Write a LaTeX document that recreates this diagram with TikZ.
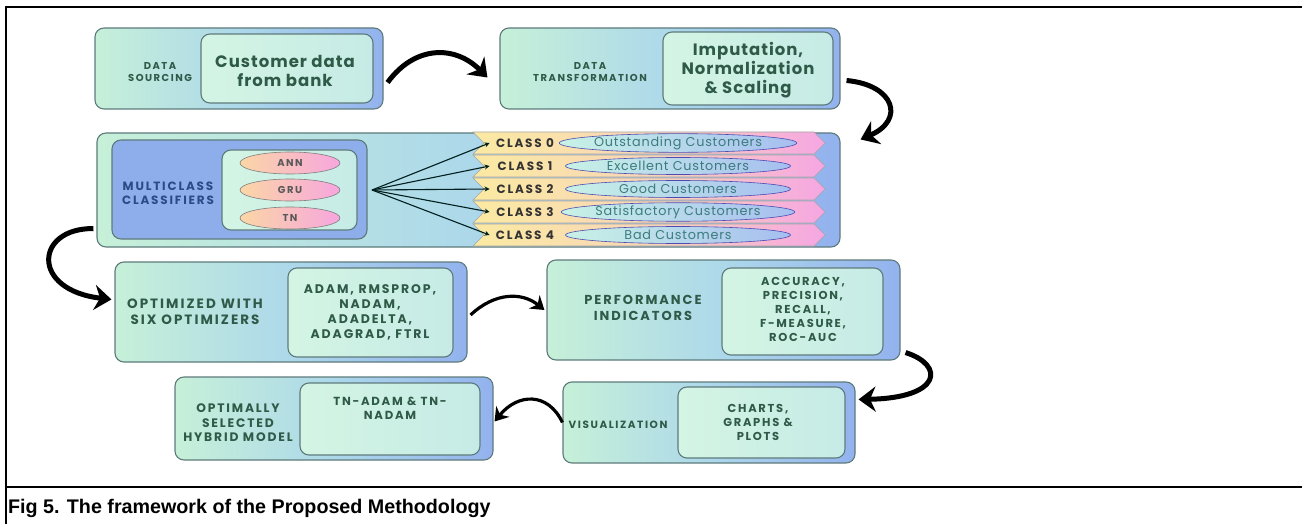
\documentclass[tikz,border=0pt]{standalone}
\usepackage{fontspec}
\setmainfont{Liberation Sans}
\newfontfamily\pop[LetterSpace=15]{Poppins}
\newfontfamily\popm[LetterSpace=6]{Poppins}
\usetikzlibrary{arrows.meta,shapes.geometric,shapes.symbols}
\definecolor{mint}{HTML}{C6F0D8}
\definecolor{aqua}{HTML}{ADD8EA}
\definecolor{blueR}{HTML}{93B2EE}
\definecolor{inA}{HTML}{D4F5E4}
\definecolor{inB}{HTML}{C6EBE6}
\definecolor{bordc}{HTML}{5E7B7C}
\definecolor{lblc}{HTML}{2F5A48}
\definecolor{navy}{HTML}{2B4B86}
\definecolor{blueBox}{HTML}{8EAEEB}
\definecolor{bandY}{HTML}{FBEAA2}
\definecolor{bandO}{HTML}{F8D6B8}
\definecolor{bandP}{HTML}{F6A6E2}
\definecolor{cyanL}{HTML}{C8F2E6}
\definecolor{blueL}{HTML}{A6BEF0}
\definecolor{peach}{HTML}{FBD6A6}
\definecolor{pinkE}{HTML}{F7A6DE}
\definecolor{custc}{HTML}{3C7C7E}
\tikzset{
  outerbox/.style={draw=bordc, line width=1.1pt, rounded corners=9pt, left color=mint, right color=blueR, middle color=aqua},
  innerbox/.style={draw=bordc, line width=1.1pt, rounded corners=9pt, left color=inA, right color=inB},
  lbl/.style={font=\pop\bfseries\fontsize{11.5}{13}\selectfont, text=lblc, align=center, inner sep=0pt},
  biglbl/.style={font=\popm\bfseries\fontsize{16.5}{19}\selectfont, text=lblc, align=center, inner sep=0pt},
  band/.style={signal, signal to=east, signal from=west, minimum width=352pt, minimum height=22pt, inner sep=0pt, draw=gray!70, line width=0.6pt, left color=bandY, right color=bandP, middle color=bandO},
  custell/.style={ellipse, draw=gray!60!blue, line width=0.6pt, left color=cyanL, right color=blueL, minimum width=225pt, minimum height=17pt, inner sep=0pt, font=\popm\fontsize{12.8}{14}\selectfont, text=custc},
  classlbl/.style={font=\pop\bfseries\fontsize{12}{13}\selectfont, text=black!80, inner sep=0pt},
  mell/.style={ellipse, draw=gray, line width=0.6pt, left color=peach, right color=pinkE, minimum width=100pt, minimum height=22pt, inner sep=0pt, font=\pop\bfseries\fontsize{10}{11}\selectfont, text=black!65},
  bigarrow/.style={line width=5pt, black, -{Stealth[length=17pt,width=25pt]}},
  midarrow/.style={line width=3.2pt, black, -{Stealth[length=13pt,width=17pt]}},
  fan/.style={line width=1.1pt, draw=black!75!teal, -{Stealth[length=5pt,width=5pt]}},
  frame/.style={line width=2pt, black}
}
\begin{document}
\begin{tikzpicture}[x=1pt,y=-1pt]
\useasboundingbox (0,0) rectangle (1302,524);
\fill[white] (0,0) rectangle (1302,524);
% frame
\draw[frame] (1302,7) -- (6,7) -- (6,524);
\draw[frame] (6,487) -- (1302,487);
\node[anchor=west, font=\bfseries\fontsize{19.7}{22}\selectfont, inner sep=0pt] (cap) at (8,508) {Fig 5. The framework of the Proposed Methodology};

% box 1
\node[outerbox, minimum width=288pt, minimum height=81pt] (b1) at (239,68.5) {};
\node[innerbox, minimum width=172pt, minimum height=69pt] (b1i) at (287,68.5) {};
\node[lbl, font=\pop\bfseries\fontsize{10}{12}\selectfont] (t1) at (160,72) {DATA\\SOURCING};
\node[biglbl] (t1i) at (285,71) {Customer data\\from bank};

% box 2
\node[outerbox, minimum width=340pt, minimum height=81pt] (b2) at (670,68.5) {};
\node[innerbox, minimum width=170pt, minimum height=73pt] (b2i) at (748,68.5) {};
\node[lbl, font=\pop\bfseries\fontsize{10}{12}\selectfont] (t2) at (590,72) {DATA\\TRANSFORMATION};
\node[biglbl] (t2i) at (748,70) {Imputation,\\Normalization\\\& Scaling};

% box 3
\node[outerbox, minimum width=743pt, minimum height=114pt] (b3) at (468.5,190) {};
\node[draw=bordc, line width=1.1pt, rounded corners=9pt, fill=blueBox, minimum width=255pt, minimum height=99pt] (b3b) at (239.5,189.5) {};
\node[innerbox, minimum width=135pt, minimum height=80pt] (b3i) at (289.5,190) {};
\node[lbl, text=navy, font=\pop\bfseries\fontsize{12}{14}\selectfont] (t3) at (168,193) {MULTICLASS\\CLASSIFIERS};
\node[mell] (ann) at (290,163) {ANN};
\node[mell] (gru) at (290,190) {GRU};
\node[mell] (tn) at (290,218) {TN};
\coordinate (hub) at (372,190);

\foreach \i/\y/\t in {0/143/Outstanding Customers,1/166/Excellent Customers,2/189/Good Customers,3/212/Satisfactory Customers,4/235/Bad Customers}{
  \node[band] (c\i) at (649,\y) {};
  \node[classlbl] (cl\i) at (525,\y) {CLASS \i};
  \node[custell] (ce\i) at (678,\y) {\t};
  \draw[fan] (hub) -- ([xshift=6pt]c\i.west);
}

% box 4
\node[outerbox, minimum width=352pt, minimum height=100pt] (b4) at (291,312) {};
\node[innerbox, minimum width=165pt, minimum height=89pt] (b4i) at (370.5,312.5) {};
\node[lbl, font=\pop\bfseries\fontsize{13.5}{16}\selectfont] (t4) at (195,312) {OPTIMIZED WITH\\SIX OPTIMIZERS};
\node[lbl, font=\pop\bfseries\fontsize{12.5}{15}\selectfont] (t4i) at (370,312) {ADAM, RMSPROP,\\NADAM,\\ADADELTA,\\ADAGRAD, FTRL};

% box 5
\node[outerbox, minimum width=353pt, minimum height=100pt] (b5) at (723.5,310) {};
\node[innerbox, minimum width=161pt, minimum height=87pt] (b5i) at (802.5,311.5) {};
\node[lbl, font=\pop\bfseries\fontsize{13}{15.5}\selectfont] (t5) at (643,308) {PERFORMANCE\\INDICATORS};
\node[lbl, font=\pop\bfseries\fontsize{11.5}{14}\selectfont] (t5i) at (803,309) {ACCURACY,\\PRECISION,\\RECALL,\\F-MEASURE,\\ROC-AUC};

% box 6
\node[outerbox, minimum width=292pt, minimum height=81pt] (b6) at (709,422.5) {};
\node[innerbox, minimum width=167pt, minimum height=71pt] (b6i) at (761.5,422.5) {};
\node[lbl, font=\pop\bfseries\fontsize{10.5}{12}\selectfont] (t6) at (618,425) {VISUALIZATION};
\node[lbl, font=\pop\bfseries\fontsize{11.5}{14}\selectfont] (t6i) at (758,422) {CHARTS,\\GRAPHS \&\\PLOTS};

% box 7
\node[outerbox, minimum width=318pt, minimum height=83pt] (b7) at (334,418.5) {};
\node[innerbox, minimum width=180pt, minimum height=72pt] (b7i) at (390,419) {};
\node[lbl, font=\pop\bfseries\fontsize{12.3}{14.5}\selectfont] (t7) at (238,423) {OPTIMALLY\\SELECTED\\HYBRID MODEL};
\node[lbl, font=\pop\bfseries\fontsize{11.7}{14}\selectfont] (t7i) at (390,408) {TN-ADAM \& TN-\\NADAM};

% arrows
\draw[bigarrow] ([xshift=4pt,yshift=-14pt]b1.east) .. controls (415,45) and (455,45) .. ([xshift=-12pt,yshift=-9pt]b2.west);
\draw[bigarrow] ([xshift=6pt,yshift=-12pt]b2.east) .. controls (895,85) and (905,120) .. ([xshift=20pt,yshift=-7pt]b3.north east);
\draw[bigarrow] ([xshift=-3pt,yshift=19pt]b3.south west) .. controls (35,228) and (30,290) .. ([xshift=-3pt,yshift=-38pt]b4.north west);
\draw[midarrow] ([xshift=3pt,yshift=-3pt]b4.east) .. controls (495,292) and (522,292) .. ([xshift=-2pt]b5.west);
\draw[bigarrow] ([xshift=5pt,yshift=8pt]b5.south east) .. controls (945,365) and (942,398) .. ([xshift=3pt,yshift=-18pt]b6.north east);
\draw[midarrow] (b6.west) .. controls (548,392) and (518,393) .. ([xshift=1pt,yshift=-3pt]b7.east);
\end{tikzpicture}
\end{document}
